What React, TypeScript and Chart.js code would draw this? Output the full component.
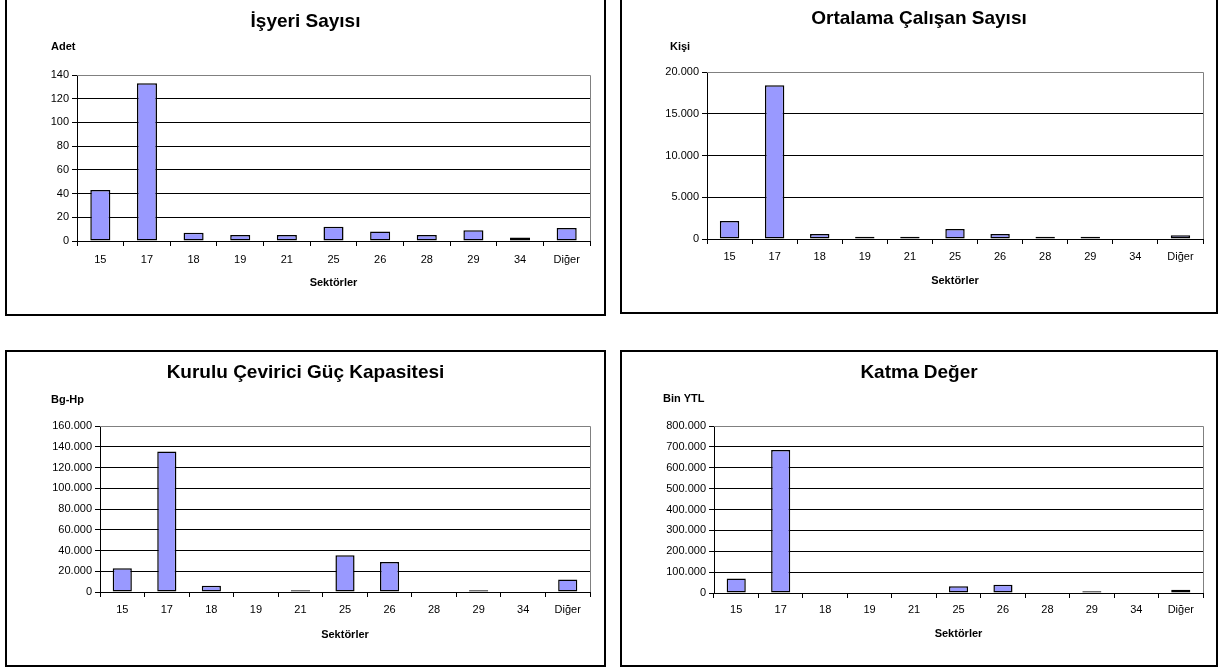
import React, { useEffect, useRef } from 'react';
import { Chart, registerables } from 'chart.js';

Chart.register(...registerables);

// ---- data ----
const sectors = ['15', '17', '18', '19', '21', '25', '26', '28', '29', '34', 'Diğer'];
const isyeriSayisi = [43, 133, 7, 5, 5, 12, 8, 5, 9, 3, 11];
const calisanSayisi = [2150, 18400, 600, 280, 280, 1200, 600, 280, 280, 0, 450];
const gucKapasitesi = [23000, 135500, 6000, 0, 1800, 35500, 29000, 0, 1800, 0, 12000];
const katmaDeger = [70000, 685000, 0, 0, 0, 32000, 40000, 0, 8000, 0, 16000];

const chartTitles = ['İşyeri Sayısı', 'Ortalama Çalışan Sayısı', 'Kurulu Çevirici Güç Kapasitesi', 'Katma Değer'];
const unitLabels = ['Adet', 'Kişi', 'Bg-Hp', 'Bin YTL'];
const yMaxes = [140, 20000, 160000, 800000];
const ySteps = [20, 5000, 20000, 100000];
const xAxisTitle = 'Sektörler';
const seriesList = [isyeriSayisi, calisanSayisi, gucKapasitesi, katmaDeger];

// ---- layout (page coordinates) ----
type Layout = {
  box: [number, number, number, number];
  plot: [number, number, number, number];
  titleY: number;
  unit: [number, number];
  labelY: number;
  axisTitleY: number;
};
const layouts: Layout[] = [
  { box: [5, -4, 601, 320], plot: [77, 75, 590, 241], titleY: 22, unit: [51, 47], labelY: 260, axisTitleY: 283 },
  { box: [620, -4, 598, 318], plot: [707, 72, 1203, 239], titleY: 19, unit: [670, 47], labelY: 257, axisTitleY: 281 },
  { box: [5, 350, 601, 317], plot: [100, 426, 590, 592], titleY: 373, unit: [51, 400], labelY: 610, axisTitleY: 635 },
  { box: [620, 350, 598, 317], plot: [714, 426, 1203, 593], titleY: 373, unit: [663, 399], labelY: 610, axisTitleY: 634 },
];

const FONT = '"Liberation Sans", Arial, sans-serif';
const BAR_FILL = '#9999FF';
const BORDER = 2;

function fmt(v: number): string {
  return String(v).replace(/\B(?=(\d{3})+(?!\d))/g, '.');
}

function Panel({ idx }: { idx: number }) {
  const ref = useRef<HTMLCanvasElement | null>(null);
  const lay = layouts[idx];
  const [bx, by, bw, bh] = lay.box;
  const cx0 = bx + BORDER;
  const cy0 = by + BORDER;
  const W = bw - 2 * BORDER;
  const H = bh - 2 * BORDER;

  useEffect(() => {
    if (!ref.current) return;
    const [L, T, R, B] = lay.plot;
    const Lc = L - cx0;
    const Rc = R - cx0;
    const Tc = T - cy0;
    const Bc = B - cy0;
    const pad = W - Rc;
    const titleSize = 19;
    const titleLH = titleSize * 1.2;
    const titlePadTop = lay.titleY - cy0 - titleLH / 2;
    const titlePadBottom = Tc - titleLH - titlePadTop;
    const tickLen = 5;
    const tickFont = 11;
    const tickLH = tickFont * 1.2;
    const xLabelPad = lay.labelY - B - tickLen - tickLH / 2;
    const axTitleLH = 11 * 1.2;
    const axTitlePadBottom = H - (lay.axisTitleY - cy0) - axTitleLH / 2;
    const max = yMaxes[idx];

    const framePlugin = {
      id: 'frameAndUnit' + idx,
      beforeDatasetsDraw(chart: any) {
        const { ctx, chartArea } = chart;
        ctx.save();
        ctx.strokeStyle = '#808080';
        ctx.lineWidth = 1;
        ctx.beginPath();
        const rx = Math.round(chartArea.right) + 0.5;
        const ty = Math.round(chartArea.top) + 0.5;
        ctx.moveTo(Math.round(chartArea.left), ty);
        ctx.lineTo(rx, ty);
        ctx.lineTo(rx, Math.round(chartArea.bottom));
        ctx.stroke();
        ctx.restore();
      },
      afterDraw(chart: any) {
        const { ctx } = chart;
        ctx.save();
        ctx.fillStyle = '#000';
        ctx.font = 'bold 11px ' + FONT;
        ctx.textAlign = 'left';
        ctx.textBaseline = 'middle';
        ctx.fillText(unitLabels[idx], lay.unit[0] - cx0, lay.unit[1] - cy0);
        ctx.restore();
      },
    };

    const chart = new Chart(ref.current, {
      type: 'bar',
      data: {
        labels: sectors,
        datasets: [
          {
            data: seriesList[idx],
            backgroundColor: BAR_FILL,
            borderColor: '#000',
            borderWidth: 1.5,
            borderSkipped: false,
            barPercentage: 0.43,
            categoryPercentage: 1.0,
          },
        ],
      },
      options: {
        animation: false,
        responsive: false,
        maintainAspectRatio: false,
        layout: { padding: { left: pad, right: pad, top: 0, bottom: 0 } },
        plugins: {
          legend: { display: false },
          tooltip: { enabled: false },
          title: {
            display: true,
            text: chartTitles[idx],
            color: '#000',
            font: { family: FONT, size: titleSize, weight: 'bold', lineHeight: 1.2 },
            padding: { top: titlePadTop, bottom: titlePadBottom },
          },
        },
        scales: {
          x: {
            type: 'category',
            offset: true,
            grid: {
              display: true,
              drawOnChartArea: false,
              drawTicks: true,
              tickLength: tickLen,
              offset: true,
              color: '#000',
              tickColor: '#000',
            },
            border: { display: true, color: '#000', width: 1 },
            ticks: {
              color: '#000',
              font: { family: FONT, size: tickFont, lineHeight: 1.2 },
              padding: xLabelPad,
              maxRotation: 0,
              autoSkip: false,
            },
            title: {
              display: true,
              text: xAxisTitle,
              color: '#000',
              font: { family: FONT, size: 11, weight: 'bold', lineHeight: 1.2 },
              padding: { top: 0, bottom: axTitlePadBottom },
            },
            afterFit(scale: any) {
              scale.height = H - Bc;
            },
          },
          y: {
            type: 'linear',
            min: 0,
            max: max,
            grid: {
              display: true,
              drawTicks: true,
              tickLength: tickLen,
              color: (c: any) => (c.tick && c.tick.value === max ? '#808080' : '#000'),
              tickColor: '#000',
              lineWidth: 1,
            },
            border: { display: true, color: '#000', width: 1 },
            ticks: {
              stepSize: ySteps[idx],
              color: '#000',
              font: { family: FONT, size: tickFont },
              padding: 3,
              callback: (v: any) => fmt(Number(v)),
            },
            afterFit(scale: any) {
              scale.width = Lc - pad;
            },
          },
        },
      },
      plugins: [framePlugin],
    } as any);
    return () => chart.destroy();
  }, [idx]);

  return (
    <>
      <div
        style={{
          position: 'absolute',
          left: bx,
          top: by,
          width: bw,
          height: bh,
          boxSizing: 'border-box',
          border: `${BORDER}px solid #000`,
          background: '#fff',
        }}
      />
      <canvas
        ref={ref}
        width={W}
        height={H}
        style={{ position: 'absolute', left: cx0, top: cy0, width: W, height: H, display: 'block' }}
      />
    </>
  );
}

export default function App() {
  return (
    <div style={{ position: 'absolute', left: 0, top: 0, width: 1223, height: 670, overflow: 'hidden', background: '#fff' }}>
      {layouts.map((_, i) => (
        <Panel key={i} idx={i} />
      ))}
    </div>
  );
}
